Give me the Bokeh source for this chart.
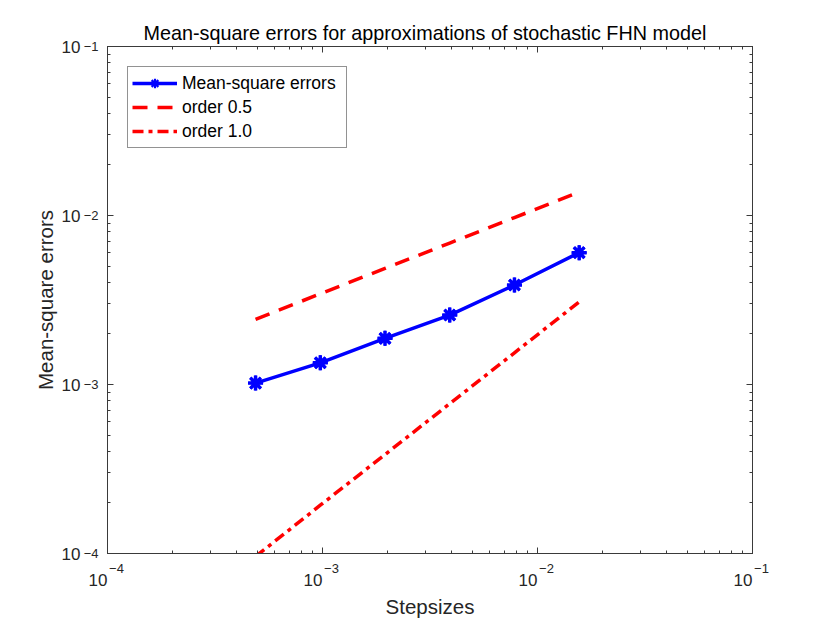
from bokeh.plotting import figure
from bokeh.models import LogAxis, Legend, LegendItem, CustomJSTickFormatter, LogTicker, Range1d, Title
from bokeh.embed import file_html
from bokeh.resources import INLINE

stepsizes = [0.00048828125, 0.0009765625, 0.001953125, 0.00390625, 0.0078125, 0.015625]
ms_errors = [1.019e-3, 1.344e-3, 1.875e-3, 2.576e-3, 3.877e-3, 6.03e-3]
order05 = [2.43e-3, 3.44e-3, 4.86e-3, 6.87e-3, 9.72e-3, 13.75e-3]
order10 = [9.6e-5, 1.93e-4, 3.85e-4, 7.7e-4, 1.54e-3, 3.08e-3]

tick_values = [1e-4, 1e-3, 1e-2, 1e-1]
tick_base = "10"
tick_exponents = ["\u22124", "\u22123", "\u22122", "\u22121"]

title_text = "Mean-square errors for approximations of stochastic FHN model"
x_label = "Stepsizes"
y_label = "Mean-square errors"
legend_labels = ["Mean-square errors", "order 0.5", "order 1.0"]

FONT = "Liberation Sans"
AX = "#3a3a3a"
TXT = "#262626"

p = figure(width=830, height=623, x_axis_type="log", y_axis_type="log",
           x_range=Range1d(1e-4, 1e-1), y_range=Range1d(1e-4, 1e-1),
           output_backend="svg", toolbar_location=None,
           min_border_left=107, min_border_right=78, min_border_top=46, min_border_bottom=70)
p.xgrid.visible = False
p.ygrid.visible = False
p.outline_line_color = AX
p.background_fill_color = "white"
p.border_fill_color = "white"

p.title = Title(text=title_text, align="left", text_font=FONT, text_font_size="19.8px",
                text_font_style="normal", text_color="#000000", standoff=6, offset=36)

def fmt(labels, prefix="", suffix=""):
    return CustomJSTickFormatter(args=dict(vals=tick_values, labs=labels, pre=prefix, suf=suffix), code="""
for (let i = 0; i < vals.length; i++) {
  if (Math.abs(Math.log10(tick) - Math.log10(vals[i])) < 1e-6) return pre + labs[i] + suf;
}
return '';
""")

base_labels = [tick_base] * len(tick_values)
blank = CustomJSTickFormatter(code="return '';")

def style(ax, ticks=True):
    ax.ticker = LogTicker(num_minor_ticks=10)
    c = AX if ticks else None
    ax.axis_line_color = c
    ax.major_tick_line_color = c
    ax.minor_tick_line_color = c
    ax.major_tick_in = 6
    ax.major_tick_out = 0
    ax.minor_tick_in = 3
    ax.minor_tick_out = 0
    ax.major_label_text_font = FONT
    ax.major_label_text_color = TXT
    ax.axis_label_text_font = FONT
    ax.axis_label_text_font_size = "20.5px"
    ax.axis_label_text_font_style = "normal"
    ax.axis_label_text_color = TXT

# bottom: exponents (near the frame) then the "10" bases
bx = p.xaxis[0]
style(bx)
bx.formatter = fmt(tick_exponents, prefix="\u2007\u2007\u2008")
bx.major_label_text_font_size = "13px"
bx.major_label_standoff = 7

bx2 = LogAxis()
style(bx2, ticks=False)
bx2.formatter = fmt(base_labels, suffix="\u2007\u2007")
bx2.major_label_text_font_size = "17px"
bx2.major_label_standoff = -8
bx2.axis_label = x_label
bx2.axis_label_standoff = 2
p.add_layout(bx2, "below")

# left: exponents (near the frame) then the "10" bases
ly = p.yaxis[0]
style(ly)
ly.formatter = fmt(tick_exponents)
ly.major_label_text_font_size = "13px"
ly.major_label_standoff = 9

ly2 = LogAxis()
style(ly2, ticks=False)
ly2.formatter = fmt(base_labels)
ly2.major_label_text_font_size = "17px"
ly2.major_label_standoff = 0
ly2.axis_label = y_label
ly2.axis_label_standoff = 2
p.add_layout(ly2, "left")

top = LogAxis()
right = LogAxis()
for a in (top, right):
    style(a)
    a.formatter = blank
    a.major_label_standoff = 0
p.add_layout(top, "above")
p.add_layout(right, "right")

l1 = p.line(stepsizes, ms_errors, line_color="#0000ff", line_width=3.5)
s_leg = p.scatter(stepsizes, ms_errors, marker="asterisk", size=15, line_color="#0000ff", line_width=2.2)
s1 = p.scatter(stepsizes, ms_errors, marker="asterisk", size=15, line_color="#0000ff", line_width=3.5)
l2 = p.line(stepsizes, order05, line_color="#ff0000", line_width=3.5, line_dash="15 10")
l3 = p.line(stepsizes, order10, line_color="#ff0000", line_width=3.5, line_dash="11 5 4 5")

legend = Legend(items=[LegendItem(label=legend_labels[0], renderers=[l1, s_leg]),
                       LegendItem(label=legend_labels[1], renderers=[l2]),
                       LegendItem(label=legend_labels[2], renderers=[l3])],
                location="top_left", margin=20, padding=4, spacing=0,
                glyph_width=45, glyph_height=24, label_standoff=5, label_height=24, label_width=160,
                label_text_font=FONT, label_text_font_size="17.5px", label_text_color="#000000",
                border_line_color="#262626", border_line_width=1)
p.add_layout(legend)

open("out.html", "w").write(file_html(p, INLINE))
